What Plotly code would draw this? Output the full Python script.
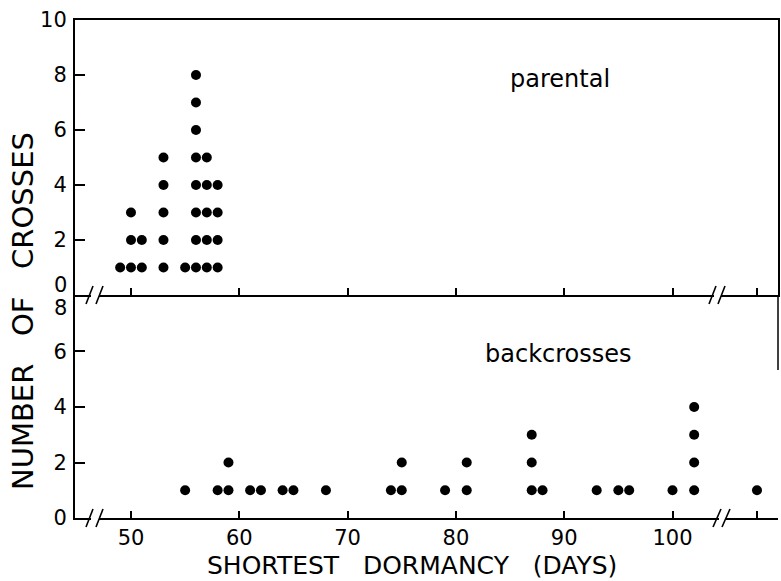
import plotly.graph_objects as go

# ---- data ----
parental_days = [49, 50, 51, 53, 55, 56, 57, 58]
parental_counts = [1, 3, 2, 5, 1, 8, 5, 4]

backcross_days = [55, 58, 59, 61, 62, 64, 65, 68, 74, 75, 79, 81, 87, 88, 93, 95, 96, 100, 102, ">105"]
backcross_counts = [1, 1, 2, 1, 1, 1, 1, 1, 1, 2, 1, 2, 3, 1, 1, 1, 1, 1, 4, 1]

x_tick_labels = ["50", "60", "70", "80", "90", "100", ">105"]
top_y_ticks = [2, 4, 6, 8, 10]
bottom_y_ticks = [0, 2, 4, 6]

# ---- layout constants ----
OVERFLOW_X = 107.8          # axis position used for the ">105" category
FONT = "DejaVu Sans"
W, H = 781, 581
ML, MR, MT, MB = 75, 3, 20, 63
PW, PH = W - ML - MR, H - MT - MB


def xpos(d):
    return OVERFLOW_X if d == ">105" else d


def stack(days, counts):
    xs, ys = [], []
    for d, c in zip(days, counts):
        for k in range(1, c + 1):
            xs.append(xpos(d))
            ys.append(k)
    return xs, ys


px_, py_ = stack(parental_days, parental_counts)
bx_, by_ = stack(backcross_days, backcross_counts)

tick_positions = [xpos(int(t)) if t.isdigit() else OVERFLOW_X for t in x_tick_labels]

fig = go.Figure()
marker = dict(color="black", size=10, symbol="circle")
fig.add_trace(go.Scatter(x=px_, y=py_, mode="markers", marker=marker,
                         xaxis="x2", yaxis="y2", showlegend=False, hoverinfo="x+y"))
fig.add_trace(go.Scatter(x=bx_, y=by_, mode="markers", marker=marker,
                         xaxis="x", yaxis="y", showlegend=False, hoverinfo="x+y"))

xr = [44.83, 109.74]
axis_common = dict(showline=True, linecolor="black", linewidth=2, showgrid=False,
                   zeroline=False, ticks="inside", tickcolor="black", tickwidth=1.5,
                   automargin=False)

TF = dict(size=21, family=FONT)
fig.update_layout(
    width=W, height=H,
    margin=dict(l=ML, r=MR, t=MT, b=MB, autoexpand=False),
    paper_bgcolor="white", plot_bgcolor="white",
    font=dict(family=FONT, color="black"),
    xaxis=dict(range=xr, tickvals=tick_positions, ticktext=x_tick_labels,
               ticklen=7, anchor="y", tickfont=TF, ticklabelstandoff=0,
               **axis_common),
    xaxis2=dict(range=xr, tickvals=tick_positions, showticklabels=False,
                ticklen=7, anchor="y2", matches="x", mirror=True, **axis_common),
    yaxis=dict(range=[0, 8], domain=[0, 0.4458], tickvals=bottom_y_ticks,
               ticktext=[str(v) for v in bottom_y_ticks], ticklen=10, anchor="x",
               tickfont=TF, ticklabelstandoff=2, **axis_common),
    yaxis2=dict(range=[0, 10], domain=[0.4478, 1], tickvals=top_y_ticks,
                ticktext=[str(v) for v in top_y_ticks], ticklen=10, anchor="x2",
                tickfont=TF, ticklabelstandoff=2, mirror=True, **axis_common),
)


def P(xpix, ypix):
    return (xpix - ML) / PW, (H - MB - ypix) / PH


shapes = []


def white_gap(x0, x1, yc):
    a = P(x0, yc - 3)
    b = P(x1, yc + 3)
    shapes.append(dict(type="rect", xref="paper", yref="paper", x0=a[0], x1=b[0],
                       y0=b[1], y1=a[1], fillcolor="white", line=dict(width=0), layer="above"))


def slash(x0, y0, x1, y1):
    a = P(x0, y0)
    b = P(x1, y1)
    shapes.append(dict(type="line", xref="paper", yref="paper", x0=a[0], y0=a[1],
                       x1=b[0], y1=b[1], line=dict(color="black", width=1.6), layer="above"))


# axis breaks: top x axis (y=295) and bottom x axis (y=518)
for yc in (295, 518):
    white_gap(91, 99, yc)
    slash(86, yc + 9, 93, yc - 9)
    slash(96, yc + 9, 103, yc - 9)
white_gap(714, 721, 295)
slash(709, 304, 716, 286)
slash(718, 304, 725, 286)
white_gap(719, 726, 518)
slash(713, 527, 721, 509)
slash(722, 527, 730, 509)

# partial right border of lower panel
a = P(778, 296)
b = P(778, 370)
shapes.append(dict(type="line", xref="paper", yref="paper", x0=a[0], y0=a[1], x1=b[0], y1=b[1],
                   line=dict(color="black", width=1.5)))

fig.update_layout(shapes=shapes)

yt = P(23, 311)
xt = P(412, 565)
annotations = [
    dict(text="parental", x=89.6, y=7.85, xref="x2", yref="y2", showarrow=False,
         xanchor="center", yanchor="middle", font=dict(size=24, family=FONT)),
    dict(text="backcrosses", x=89.5, y=5.9, xref="x", yref="y", showarrow=False,
         xanchor="center", yanchor="middle", font=dict(size=24, family=FONT)),
    dict(text="0", x=0, y=0, xref="x2 domain", yref="y2", xanchor="right", yanchor="bottom",
         xshift=-6, yshift=-4, showarrow=False, font=TF),
    dict(text="8", x=0, y=8, xref="x domain", yref="y", xanchor="right", yanchor="top",
         xshift=-6, yshift=2, showarrow=False, font=TF),
    dict(text="NUMBER\u00a0\u00a0\u00a0OF\u00a0\u00a0\u00a0CROSSES", x=yt[0], y=yt[1],
         xref="paper", yref="paper", textangle=-90, showarrow=False,
         xanchor="center", yanchor="middle", font=dict(size=29, family=FONT)),
    dict(text="SHORTEST\u00a0\u00a0\u00a0DORMANCY\u00a0\u00a0\u00a0(DAYS)", x=xt[0], y=xt[1],
         xref="paper", yref="paper", showarrow=False,
         xanchor="center", yanchor="middle", font=dict(size=25, family=FONT)),
]
fig.update_layout(annotations=annotations)

fig.write_html("out.html", config={"displayModeBar": False},
               post_script="document.body.style.margin='0px';")
